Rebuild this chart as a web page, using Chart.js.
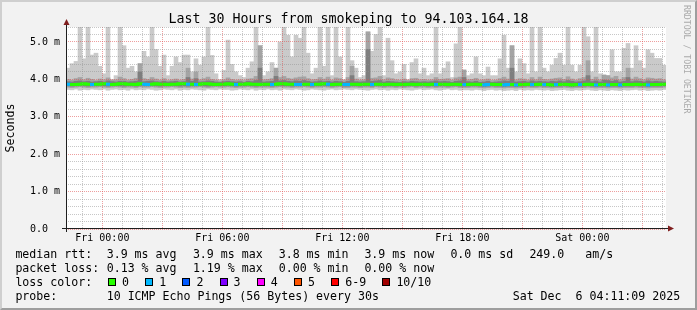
<!DOCTYPE html>
<html>
<head>
<meta charset="utf-8">
<title>Last 30 Hours from smokeping to 94.103.164.18</title>
<script src="https://cdn.jsdelivr.net/npm/chart.js@4.4.1/dist/chart.umd.min.js"></script>
<style>
  html, body { margin: 0; padding: 0; background: #f2f2f2; }
  #graph { position: relative; width: 697px; height: 310px; background: #f2f2f2; overflow: hidden;
           font-family: 'DejaVu Sans Mono', monospace; color: #000; }
  #graph canvas { position: absolute; left: 0; top: 0; }
  .frame { position: absolute; left: 0; top: 0; width: 697px; height: 310px; box-sizing: border-box; pointer-events: none;
           border-top: 2px solid #cfcfcf; border-left: 2px solid #cfcfcf;
           border-right: 2px solid #9e9e9e; border-bottom: 2px solid #9e9e9e; }
  .title { position: absolute; left: 0; top: 11.4px; width: 697px; text-align: center;
           font-size: 13.3px; line-height: 16px; white-space: pre; }
  .txt { position: absolute; font-size: 11.6px; line-height: 14px; white-space: pre; }
  .box { position: absolute; width: 6px; height: 6px; border: 1px solid #000; }
  .mark { position: absolute; left: 682px; top: 5px; font-size: 8.2px; line-height: 10px; color: #aaaaaa;
          writing-mode: vertical-rl; white-space: pre; }
</style>
</head>
<body>
<div id="graph">
  <canvas id="chart" width="697" height="310"></canvas>
  <div class="title">Last 30 Hours from smokeping to 94.103.164.18</div>
  <div class="mark">RRDTOOL / TOBI OETIKER</div>
  <div class="frame"></div>
</div>
<script>
// Time axis (hours relative to Fri 00:00)
const startHour = -1.8167;   // Thu 22:11
const endHour = 28.1833;     // Sat 04:11
const stepHours = 0.2;       // one consolidated step = 12 min

const xTickHours = [-1, 0, 1, 2, 3, 4, 5, 6, 7, 8, 9, 10, 11, 12, 13, 14, 15, 16, 17, 18, 19, 20, 21, 22, 23, 24, 25, 26, 27, 28];
const xLabelHours = [0, 6, 12, 18, 24];
const xLabelText = ['Fri 00:00', 'Fri 06:00', 'Fri 12:00', 'Fri 18:00', 'Sat 00:00'];

const yTickValues = [0, 0.2, 0.4, 0.6, 0.8, 1, 1.2, 1.4, 1.6, 1.8, 2, 2.2, 2.4, 2.6, 2.8, 3, 3.2, 3.4, 3.6, 3.8, 4, 4.2, 4.4, 4.6, 4.8, 5, 5.2, 5.4];
const yLabelValues = [0, 1, 2, 3, 4, 5];
const yLabelText = ['0.0  ', '1.0 m', '2.0 m', '3.0 m', '4.0 m', '5.0 m'];

// Smoke: sorted pings per step (ms). p1 = fastest, p10 = slowest
const smokeP1 = [
  3.73,3.72,3.74,3.71,3.73,3.72,3.74,3.73,3.72,3.74, 3.71,3.73,3.74,3.72,3.73,3.71,3.74,3.72,3.73,3.72,
  3.74,3.73,3.71,3.72,3.74,3.73,3.72,3.74,3.71,3.73, 3.72,3.74,3.73,3.72,3.71,3.74,3.73,3.72,3.74,3.73,
  3.73,3.71,3.72,3.74,3.73,3.72,3.74,3.71,3.73,3.72, 3.74,3.72,3.73,3.71,3.74,3.73,3.72,3.74,3.73,3.71,
  3.72,3.74,3.73,3.72,3.71,3.73,3.74,3.72,3.73,3.74, 3.73,3.72,3.74,3.73,3.72,3.71,3.73,3.74,3.72,3.73,
  3.71,3.73,3.72,3.74,3.73,3.72,3.71,3.73,3.74,3.72, 3.73,3.74,3.72,3.71,3.73,3.74,3.72,3.73,3.71,3.72,
  3.72,3.71,3.73,3.72,3.70,3.72,3.73,3.71,3.72,3.70, 3.71,3.72,3.70,3.73,3.71,3.72,3.71,3.73,3.72,3.71,
  3.72,3.70,3.71,3.72,3.73,3.71,3.70,3.72,3.71,3.72, 3.73,3.71,3.70,3.72,3.71,3.70,3.72,3.71,3.70,3.72,
  3.71,3.72,3.73,3.71,3.72,3.70,3.71,3.72,3.71,3.73
];
const smokeP2 = [
  3.79,3.78,3.79,3.80,3.79,3.78,3.79,3.79,3.80,3.79, 3.78,3.79,3.80,3.79,3.78,3.79,3.79,3.78,3.80,3.79,
  3.79,3.80,3.79,3.78,3.79,3.79,3.80,3.79,3.78,3.79, 3.78,3.79,3.79,3.80,3.79,3.78,3.79,3.80,3.79,3.79,
  3.80,3.79,3.78,3.79,3.79,3.80,3.79,3.78,3.79,3.79, 3.79,3.78,3.79,3.80,3.79,3.79,3.78,3.79,3.79,3.80,
  3.79,3.78,3.79,3.79,3.80,3.79,3.78,3.79,3.80,3.78, 3.78,3.79,3.79,3.78,3.79,3.79,3.78,3.80,3.79,3.78,
  3.79,3.79,3.78,3.79,3.78,3.79,3.80,3.78,3.79,3.79, 3.78,3.79,3.78,3.79,3.79,3.78,3.79,3.80,3.78,3.78,
  3.78,3.79,3.79,3.78,3.77,3.78,3.79,3.78,3.78,3.77, 3.78,3.78,3.77,3.78,3.78,3.79,3.78,3.78,3.79,3.78,
  3.78,3.77,3.78,3.78,3.79,3.78,3.77,3.78,3.78,3.78, 3.79,3.78,3.77,3.78,3.78,3.77,3.78,3.78,3.77,3.78,
  3.78,3.78,3.79,3.78,3.78,3.77,3.78,3.78,3.78,3.79
];
const smokeP3 = [
  3.83,3.82,3.83,3.84,3.83,3.82,3.83,3.83,3.84,3.83, 3.82,3.83,3.84,3.83,3.82,3.83,3.83,3.82,3.84,3.83,
  3.83,3.84,3.83,3.82,3.83,3.83,3.84,3.83,3.82,3.83, 3.82,3.83,3.83,3.84,3.83,3.82,3.83,3.84,3.83,3.83,
  3.84,3.83,3.82,3.83,3.83,3.84,3.83,3.82,3.83,3.83, 3.83,3.82,3.83,3.84,3.83,3.83,3.82,3.83,3.83,3.84,
  3.83,3.82,3.83,3.83,3.84,3.83,3.82,3.83,3.84,3.82, 3.82,3.83,3.83,3.82,3.83,3.83,3.82,3.84,3.83,3.82,
  3.83,3.83,3.82,3.83,3.82,3.83,3.84,3.82,3.83,3.83, 3.82,3.83,3.82,3.83,3.83,3.82,3.83,3.84,3.82,3.82,
  3.82,3.83,3.83,3.82,3.81,3.82,3.83,3.82,3.82,3.81, 3.82,3.82,3.81,3.82,3.82,3.83,3.82,3.82,3.83,3.82,
  3.82,3.81,3.82,3.82,3.83,3.82,3.81,3.82,3.82,3.82, 3.83,3.82,3.81,3.82,3.82,3.81,3.82,3.82,3.81,3.82,
  3.82,3.82,3.83,3.82,3.82,3.81,3.82,3.82,3.82,3.83
];
const smokeP8 = [
  3.94,3.93,3.95,3.96,3.94,3.95,3.93,3.94,3.95,3.93, 3.96,3.94,3.93,3.95,3.95,3.93,3.94,3.95,4.20,3.94,
  3.95,3.96,3.94,3.93,3.95,3.93,3.94,3.95,3.93,3.94, 4.05,3.95,4.02,3.93,3.94,3.96,3.95,3.93,3.92,3.94,
  3.95,3.94,3.93,3.94,3.92,3.95,3.94,3.97,4.30,3.93, 3.94,3.95,4.08,3.96,3.97,3.95,3.94,3.96,3.95,3.97,
  3.95,3.93,3.94,3.96,3.94,3.95,3.93,3.95,3.94,3.92, 3.95,4.10,3.94,3.93,3.94,4.80,3.95,3.96,3.97,3.93,
  3.95,3.94,3.93,3.92,3.94,3.93,3.95,3.94,3.93,3.94, 3.93,3.94,3.96,3.94,3.95,3.94,3.92,3.95,3.96,4.05,
  3.94,3.93,3.95,3.92,3.93,3.95,3.92,3.93,3.94,3.96, 3.95,4.30,3.93,3.94,3.95,3.93,3.96,3.94,3.95,3.94,
  3.93,3.95,3.94,3.96,3.94,3.97,3.95,3.93,3.94,3.96, 4.10,3.94,3.96,3.93,3.98,3.97,3.95,3.97,3.93,3.95,
  4.05,3.94,3.96,3.95,3.93,3.96,3.94,3.95,3.94,3.93
];
const smokeP9 = [
  4.00,3.98,4.02,4.05,3.99,4.03,4.00,3.97,4.01,3.99, 4.04,3.98,3.99,4.06,4.02,3.98,4.00,4.03,4.42,4.02,
  4.00,4.05,4.01,3.98,4.02,3.97,3.99,4.01,3.98,4.00, 4.30,4.01,4.20,3.99,4.02,4.06,4.00,3.98,3.96,3.99,
  4.04,4.00,3.98,3.99,3.97,4.01,4.02,4.08,4.90,3.99, 4.00,4.02,4.30,4.05,4.08,4.03,4.01,4.04,4.06,4.07,
  4.02,3.99,4.00,4.05,4.01,4.06,3.98,4.04,4.02,3.97, 4.05,4.35,4.01,3.98,3.99,5.27,4.03,4.04,4.08,3.99,
  4.04,4.02,3.99,3.98,4.01,3.97,4.02,4.03,3.99,4.00, 3.98,3.99,4.05,4.00,4.01,4.02,3.98,4.04,4.06,4.25,
  3.99,4.00,4.03,3.98,3.99,4.01,3.97,3.98,4.02,4.06, 4.01,4.90,3.99,4.02,4.01,3.98,4.05,3.99,4.06,4.00,
  3.99,4.01,4.03,4.04,4.00,4.07,4.01,3.98,4.02,4.05, 4.50,4.00,4.06,3.99,4.12,4.10,4.04,4.08,3.99,4.05,
  4.30,4.01,4.06,4.02,3.99,4.04,4.03,4.01,4.02,3.99
];
const smokeP10 = [
  4.30,4.42,4.48,5.60,4.55,5.60,4.65,4.70,4.35,4.15, 5.60,4.00,4.10,5.60,4.90,4.30,4.35,4.20,4.42,4.75,
  4.60,5.60,4.80,4.35,4.65,4.10,4.35,4.60,4.45,4.65, 4.65,4.20,4.55,4.38,4.60,5.60,4.64,4.15,4.00,4.24,
  5.05,4.40,4.20,4.10,4.05,4.30,4.47,5.60,4.90,4.10, 4.20,4.45,4.30,5.00,5.60,5.18,4.60,5.18,5.10,5.60,
  4.70,4.15,4.30,5.60,4.35,5.60,4.10,5.50,4.60,4.00, 5.60,4.50,4.30,4.05,4.10,5.27,4.75,5.20,5.60,4.10,
  5.10,4.50,4.15,4.20,4.40,4.00,4.45,4.55,4.15,4.30, 4.10,4.15,5.60,4.15,4.30,4.47,4.05,4.95,5.60,4.25,
  4.10,4.15,4.60,4.15,4.10,4.33,4.10,4.10,4.55,5.18, 4.30,4.90,4.20,4.55,4.42,4.15,5.60,4.20,5.60,4.30,
  4.20,4.38,4.56,4.70,4.38,5.60,4.38,4.20,4.38,5.60, 5.14,4.20,5.60,4.15,4.10,4.10,4.79,4.20,4.20,4.83,
  4.96,4.30,4.90,4.50,4.30,4.79,4.70,4.56,4.56,4.38
];

// Median rtt (ms) and lost pings per step
const medianRtt = [
  3.87,3.86,3.86,3.87,3.88,3.87,3.86,3.87,3.87,3.88, 3.87,3.86,3.87,3.88,3.88,3.87,3.87,3.86,3.88,3.87,
  3.86,3.87,3.88,3.87,3.87,3.86,3.87,3.87,3.88,3.88, 3.87,3.87,3.86,3.87,3.88,3.88,3.87,3.86,3.87,3.87,
  3.88,3.87,3.86,3.87,3.87,3.88,3.87,3.87,3.86,3.87, 3.87,3.86,3.87,3.88,3.88,3.87,3.87,3.86,3.86,3.87,
  3.87,3.86,3.87,3.87,3.88,3.87,3.86,3.87,3.87,3.86, 3.86,3.87,3.87,3.86,3.87,3.87,3.86,3.87,3.87,3.86,
  3.87,3.87,3.86,3.87,3.86,3.87,3.87,3.86,3.87,3.87, 3.86,3.87,3.86,3.87,3.87,3.86,3.87,3.87,3.86,3.86,
  3.86,3.87,3.87,3.86,3.85,3.86,3.87,3.86,3.86,3.85, 3.86,3.86,3.85,3.86,3.86,3.87,3.86,3.86,3.87,3.86,
  3.86,3.85,3.86,3.86,3.87,3.86,3.85,3.86,3.86,3.86, 3.87,3.86,3.85,3.86,3.86,3.85,3.86,3.86,3.85,3.86,
  3.86,3.86,3.87,3.86,3.86,3.85,3.86,3.86,3.86,3.87
];
const lostPings = [
  1,0,0,0,0,0,1,0,0,0, 1,0,0,0,0,0,0,0,0,1, 1,0,0,0,0,0,0,0,0,0, 1,0,1,0,0,0,0,0,0,0,
  0,0,1,0,0,0,0,0,0,0, 0,1,0,0,0,0,0,1,1,0, 0,1,0,0,0,1,0,0,0,1, 1,0,0,0,0,0,1,0,0,0,
  0,0,0,0,0,0,0,0,0,0, 0,0,1,0,0,0,0,0,0,1, 0,0,0,0,1,1,0,0,0,1, 1,0,1,0,0,0,1,0,0,1,
  0,0,1,0,0,0,0,0,1,0, 0,0,1,0,0,1,0,0,1,0, 0,0,0,0,0,1,0,0,0,0
];

// Loss colour legend
const lossLabels = ['0', '1', '2', '3', '4', '5', '6-9', '10/10'];
const lossColors = ['#26ff00', '#00b8ff', '#0059ff', '#7e00ff', '#ff00ff', '#ff5500', '#ff0000', '#a10000'];

// Legend text
const rttStats = ['3.9 ms avg', '3.9 ms max', '3.8 ms min', '3.9 ms now', '0.0 ms sd', '249.0   am/s'];
const lossStats = ['0.13 % avg', '1.19 % max', '0.00 % min', '0.00 % now'];
const probeText = '10 ICMP Echo Pings (56 Bytes) every 30s';
const stampText = 'Sat Dec  6 04:11:09 2025';

// Colours (rrdtool / smokeping style)
const GRID = 'rgba(143,143,143,0.5)';
const MGRID = 'rgba(222,79,79,0.55)';
const SMOKE = ['#cacaca', '#a4a4a4', '#7e7e7e'];
const FONT = 'DejaVu Sans Mono';

function lossColor(n) {
    if (n >= 10) return lossColors[7];
    if (n >= 6) return lossColors[6];
    return lossColors[n];
}

function barPoints(low, high) {
    return low.map((v, i) => ({ x: startHour + (i + 0.5) * stepHours, y: [v, high[i]] }));
}

function medianPoints() {
    const pts = medianRtt.map((v, i) => ({ x: startHour + i * stepHours, y: v }));
    pts.push({ x: endHour, y: medianRtt[medianRtt.length - 1] });
    return pts;
}

// Plugins: white canvas behind the plot, axis lines with arrows
const canvasBackground = {
    id: 'canvasBackground',
    beforeDraw(chart) {
        const { ctx, chartArea: a } = chart;
        ctx.save();
        ctx.fillStyle = '#ffffff';
        ctx.fillRect(a.left, a.top, a.right - a.left, a.bottom - a.top);
        ctx.restore();
    }
};

const axisArrows = {
    id: 'axisArrows',
    afterDraw(chart) {
        const { ctx, chartArea: a } = chart;
        const x0 = a.left + 0.5;
        const y0 = a.bottom - 0.5;
        ctx.save();
        ctx.strokeStyle = '#1f1f1f';
        ctx.lineWidth = 1;
        ctx.beginPath();
        ctx.moveTo(a.left - 4, y0);
        ctx.lineTo(a.right + 3, y0);
        ctx.moveTo(x0, a.bottom + 3);
        ctx.lineTo(x0, a.top - 3);
        ctx.stroke();
        ctx.fillStyle = '#801f1f';
        ctx.beginPath();
        ctx.moveTo(x0 - 3, a.top - 2);
        ctx.lineTo(x0 + 3, a.top - 2);
        ctx.lineTo(x0, a.top - 8);
        ctx.closePath();
        ctx.fill();
        ctx.beginPath();
        ctx.moveTo(a.right + 2, y0 - 3);
        ctx.lineTo(a.right + 2, y0 + 3);
        ctx.lineTo(a.right + 8, y0);
        ctx.closePath();
        ctx.fill();
        ctx.restore();
    }
};

// Chart
new Chart(document.getElementById('chart'), {
    type: 'bar',
    data: {
        datasets: [
            {
                type: 'line',
                data: medianPoints(),
                order: 0,
                stepped: 'before',
                borderWidth: 3,
                borderCapStyle: 'butt',
                pointRadius: 0,
                borderColor: lossColors[0],
                segment: { borderColor: ctx => lossColor(lostPings[ctx.p0DataIndex]) }
            },
            { data: barPoints(smokeP3, smokeP8), backgroundColor: SMOKE[2], order: 1 },
            { data: barPoints(smokeP2, smokeP9), backgroundColor: SMOKE[1], order: 2 },
            { data: barPoints(smokeP1, smokeP10), backgroundColor: SMOKE[0], order: 3 }
        ]
    },
    options: {
        responsive: false,
        animation: false,
        devicePixelRatio: 1,
        layout: { padding: { left: 0, right: 31, top: 27, bottom: 0 } },
        datasets: {
            bar: { grouped: false, barPercentage: 1, categoryPercentage: 1, borderWidth: 0 }
        },
        plugins: {
            legend: { display: false },
            tooltip: { enabled: false },
            title: { display: false }
        },
        scales: {
            x: {
                type: 'linear',
                min: startHour,
                max: endHour,
                offset: false,
                afterFit: scale => { scale.height = 81; },
                afterBuildTicks: scale => { scale.ticks = xTickHours.map(v => ({ value: v })); },
                grid: {
                    offset: false,
                    drawTicks: false,
                    lineWidth: 1,
                    z: 1,
                    color: ctx => (ctx.tick && ctx.tick.value % 3 === 0) ? MGRID : GRID
                },
                border: { display: false, dash: [1, 1] },
                ticks: {
                    autoSkip: false,
                    maxRotation: 0,
                    padding: 3,
                    color: '#000',
                    font: { family: FONT, size: 10 },
                    callback: value => {
                        const i = xLabelHours.indexOf(value);
                        return i >= 0 ? xLabelText[i] : '';
                    }
                }
            },
            y: {
                min: 0,
                max: 5.4,
                afterFit: scale => { scale.width = 66; },
                afterBuildTicks: scale => { scale.ticks = yTickValues.map(v => ({ value: v })); },
                grid: {
                    drawTicks: false,
                    lineWidth: 1,
                    z: 1,
                    color: ctx => (ctx.tick && yLabelValues.includes(ctx.tick.value)) ? MGRID : GRID
                },
                border: { display: false, dash: [1, 1] },
                ticks: {
                    autoSkip: false,
                    padding: 6,
                    color: '#000',
                    font: { family: FONT, size: 10 },
                    callback: value => {
                        const i = yLabelValues.indexOf(value);
                        return i >= 0 ? yLabelText[i] : '';
                    }
                },
                title: {
                    display: true,
                    text: 'Seconds',
                    color: '#000',
                    font: { family: FONT, size: 11.6 },
                    padding: { top: 4, bottom: 0 }
                }
            }
        }
    },
    plugins: [canvasBackground, axisArrows]
});

// Legend block (rrdtool style, below the graph)
const graph = document.getElementById('graph');

function addText(left, top, text) {
    const el = document.createElement('div');
    el.className = 'txt';
    el.style.left = left + 'px';
    el.style.top = top + 'px';
    el.textContent = text;
    graph.insertBefore(el, graph.querySelector('.frame'));
}

const rowTops = [246.7, 260.7, 274.8, 289];
const rttCols = [106.7, 192.9, 278.7, 364.4, 450.4, 529.4];

addText(15.4, rowTops[0], 'median rtt:');
rttStats.forEach((t, i) => addText(rttCols[i], rowTops[0], t));

addText(15.4, rowTops[1], 'packet loss:');
lossStats.forEach((t, i) => addText(rttCols[i], rowTops[1], t));

addText(15.4, rowTops[2], 'loss color:');
let boxX = 108;
lossLabels.forEach((label, i) => {
    const box = document.createElement('div');
    box.className = 'box';
    box.style.left = boxX + 'px';
    box.style.top = '278px';
    box.style.background = lossColors[i];
    graph.insertBefore(box, graph.querySelector('.frame'));
    addText(boxX + 14, rowTops[2], label);
    boxX += 14.5 + label.length * 7 + 15.7;
});

addText(15.4, rowTops[3], 'probe:');
addText(106.7, rowTops[3], probeText);
addText(512.7, rowTops[3], stampText);
</script>
</body>
</html>
